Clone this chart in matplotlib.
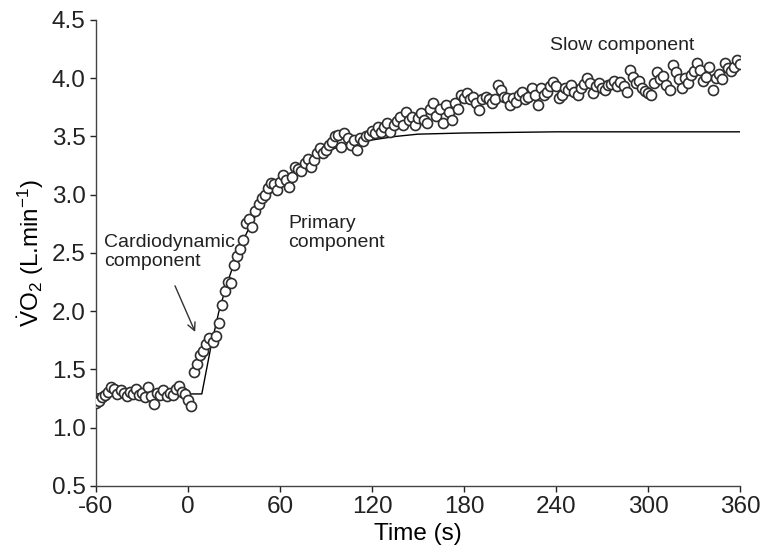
import numpy as np
import matplotlib.pyplot as plt

plt.rcParams['font.family'] = ['Liberation Sans', 'DejaVu Sans']
plt.rcParams['mathtext.fontset'] = 'custom'
plt.rcParams['mathtext.rm'] = 'Liberation Sans'
plt.rcParams['mathtext.it'] = 'Liberation Sans'
plt.rcParams['axes.unicode_minus'] = False

# breath data, sampled every 2 s from -60 to 360 s
time = np.arange(-60, 362, 2)
vo2 = [
    1.21, 1.23, 1.26, 1.28, 1.31, 1.35, 1.33, 1.29, 1.32, 1.30,   # -60..-42
    1.27, 1.31, 1.29, 1.33, 1.28, 1.30, 1.26, 1.35, 1.27, 1.20,   # -40..-22
    1.30, 1.28, 1.32, 1.27, 1.30, 1.28, 1.33, 1.36, 1.31, 1.29,   # -20..-2
    1.24, 1.19, 1.48, 1.55, 1.62, 1.66, 1.72, 1.77, 1.74, 1.79,   # 0..18
    1.90, 2.05, 2.17, 2.25, 2.24, 2.40, 2.47, 2.53, 2.61, 2.76,   # 20..38
    2.79, 2.72, 2.86, 2.92, 2.97, 3.00, 3.06, 3.10, 3.09, 3.04,   # 40..58
    3.11, 3.17, 3.13, 3.07, 3.15, 3.24, 3.22, 3.20, 3.27, 3.31,   # 60..78
    3.24, 3.30, 3.36, 3.40, 3.36, 3.38, 3.43, 3.45, 3.50, 3.51,   # 80..98
    3.41, 3.53, 3.49, 3.43, 3.47, 3.38, 3.49, 3.46, 3.50, 3.51,   # 100..118
    3.55, 3.53, 3.58, 3.54, 3.58, 3.62, 3.54, 3.60, 3.63, 3.67,   # 120..138
    3.60, 3.71, 3.64, 3.67, 3.60, 3.66, 3.70, 3.64, 3.62, 3.74,   # 140..158
    3.79, 3.68, 3.74, 3.62, 3.77, 3.71, 3.64, 3.79, 3.74, 3.86,   # 160..178
    3.83, 3.87, 3.82, 3.84, 3.79, 3.73, 3.82, 3.84, 3.82, 3.79,   # 180..198
    3.82, 3.94, 3.90, 3.84, 3.83, 3.77, 3.83, 3.80, 3.86, 3.88,   # 200..218
    3.82, 3.84, 3.92, 3.86, 3.77, 3.92, 3.86, 3.88, 3.93, 3.97,   # 220..238
    3.93, 3.83, 3.86, 3.92, 3.90, 3.94, 3.88, 3.86, 3.92, 3.95,   # 240..258
    4.00, 3.96, 3.87, 3.93, 3.96, 3.92, 3.90, 3.94, 3.95, 3.98,   # 260..278
    3.93, 3.97, 3.93, 3.88, 4.07, 4.01, 3.96, 3.98, 3.92, 3.89,   # 280..298
    3.87, 3.86, 3.96, 4.05, 3.99, 4.02, 3.94, 3.90, 4.11, 4.05,   # 300..318
    3.99, 3.92, 4.00, 3.96, 4.03, 4.06, 4.13, 4.07, 3.98, 4.01,   # 320..338
    4.10, 3.90, 4.00, 4.04, 3.99, 4.13, 4.09, 4.06, 4.10, 4.16,   # 340..358
    4.12,                                                         # 360
]

# model fit line
fit_t = [-60, 9, 15, 20, 25, 30, 35, 40, 45, 50, 55, 60, 70, 80, 90,
         100, 110, 120, 135, 150, 180, 240, 360]
fit_v = [1.29, 1.29, 1.70, 1.99, 2.22, 2.41, 2.58, 2.72, 2.84, 2.94, 3.03,
         3.10, 3.22, 3.31, 3.37, 3.42, 3.45, 3.47, 3.50, 3.52, 3.53, 3.54, 3.54]

x_ticks = [-60, 0, 60, 120, 180, 240, 300, 360]
y_ticks = [0.5, 1.0, 1.5, 2.0, 2.5, 3.0, 3.5, 4.0, 4.5]

fig = plt.figure(figsize=(7.63, 5.49), dpi=100)
ax = fig.add_axes([0.1258, 0.1148, 0.8442, 0.8488])

ax.plot(time, vo2, 'o', ms=7.2, mfc='white', mec='#2e2e2e', mew=1.2, zorder=3)
ax.plot(fit_t, fit_v, color='black', lw=1.0, zorder=2)

ax.set_xlim(-60, 360)
ax.set_ylim(0.5, 4.5)
ax.set_xticks(x_ticks)
ax.set_yticks(y_ticks)
ax.set_yticklabels(['%.1f' % v for v in y_ticks])
ax.tick_params(direction='out', length=4, width=1, labelsize=17.5, colors='#222222')
for side in ['top', 'right']:
    ax.spines[side].set_visible(False)
for side in ['left', 'bottom']:
    ax.spines[side].set_color('#444444')
    ax.spines[side].set_linewidth(1)

ax.set_xlabel('Time (s)', fontsize=17.5, labelpad=3)
ax.set_ylabel(r'$\dot{\mathrm{V}}\mathrm{O}_2$ (L.min$^{-1}$)', fontsize=17.5, labelpad=4)

ax.text(-55, 2.51, 'Cardiodynamic\ncomponent', fontsize=14, va='center',
        linespacing=1.2, color='#222222')
ax.text(65.5, 2.67, 'Primary\ncomponent', fontsize=14, va='center',
        linespacing=1.2, color='#222222')
ax.text(236, 4.28, 'Slow component', fontsize=14, va='center', color='#222222')
ax.annotate('', xy=(5.4, 1.80), xytext=(-9.2, 2.24),
            arrowprops=dict(arrowstyle='->', color='#333333', lw=1.0,
                            mutation_scale=14))

fig.savefig('out.png', dpi=100)
